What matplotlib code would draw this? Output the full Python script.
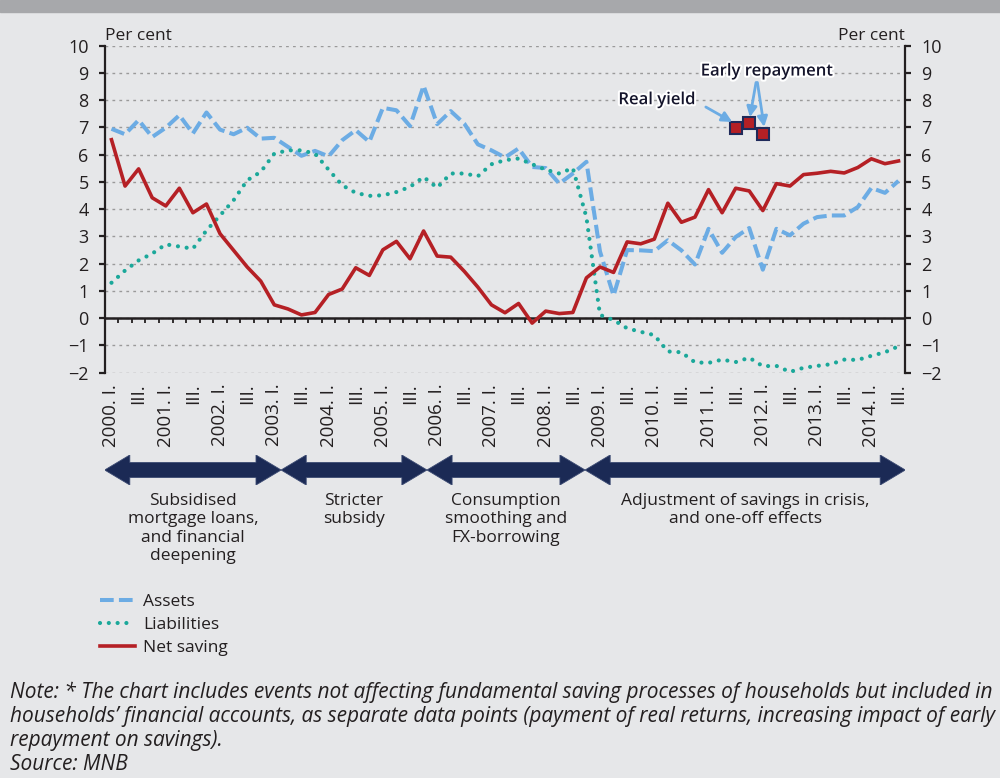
import numpy as np
import matplotlib
matplotlib.use('Agg')
import matplotlib.pyplot as plt
import matplotlib.patheffects as pe
from matplotlib.patches import Polygon, Rectangle
from matplotlib.transforms import blended_transform_factory

plt.rcParams['font.family'] = ['Open Sans', 'DejaVu Sans']

# quarterly data, 2000 Q1 - 2014 Q3, per cent
assets = [6.95, 6.75, 7.27, 6.65, 6.99, 7.45, 6.78, 7.55, 6.92, 6.75, 6.99, 6.59, 6.62, 6.29, 5.96,
          6.14, 5.94, 6.53, 6.90, 6.47, 7.72, 7.63, 7.05, 8.53, 7.12, 7.60, 7.14, 6.38, 6.16, 5.90,
          6.23, 5.55, 5.51, 4.94, 5.31, 5.74, 2.45, 0.83, 2.50, 2.49, 2.46, 2.86, 2.49, 1.97, 3.28,
          2.40, 2.98, 3.31, 1.78, 3.28, 3.04, 3.47, 3.71, 3.77, 3.77, 4.08, 4.78, 4.60, 5.04]
liabilities = [1.30, 1.75, 2.12, 2.37, 2.71, 2.63, 2.55, 3.22, 3.77, 4.33, 5.06, 5.37, 6.04, 6.16, 6.16,
               6.04, 5.45, 4.88, 4.60, 4.49, 4.51, 4.63, 4.82, 5.18, 4.79, 5.31, 5.31, 5.21, 5.65, 5.80,
               5.86, 5.65, 5.45, 5.31, 5.51, 3.70, 0.12, -0.07, -0.37, -0.50, -0.62, -1.22, -1.25, -1.62, -1.64,
               -1.52, -1.61, -1.45, -1.76, -1.75, -1.97, -1.82, -1.75, -1.69, -1.52, -1.53, -1.38, -1.25, -1.03]
net_saving = [6.55, 4.85, 5.48, 4.42, 4.12, 4.77, 3.87, 4.19, 3.10, 2.49, 1.88, 1.36, 0.49, 0.34, 0.12,
              0.21, 0.87, 1.07, 1.85, 1.57, 2.51, 2.82, 2.18, 3.20, 2.28, 2.24, 1.72, 1.14, 0.49, 0.20,
              0.54, -0.18, 0.26, 0.17, 0.21, 1.48, 1.88, 1.68, 2.80, 2.73, 2.90, 4.22, 3.52, 3.71, 4.72,
              3.87, 4.77, 4.67, 3.95, 4.94, 4.85, 5.27, 5.32, 5.39, 5.33, 5.53, 5.85, 5.67, 5.77]
# one-off points (real yield, early repayment)
one_off_idx = [46, 47, 48]
one_off_vals = [6.97, 7.15, 6.77]

periods = ['Subsidised\nmortgage loans,\nand financial\ndeepening',
           'Stricter\nsubsidy',
           'Consumption\nsmoothing and\nFX-borrowing',
           'Adjustment of savings in crisis,\nand one-off effects']
period_bounds = [-0.5, 12.5, 23.25, 34.9, 58.5]

note = ("Note: * The chart includes events not affecting fundamental saving processes of households but included in\n"
        "households\u2019 financial accounts, as separate data points (payment of real returns, increasing impact of early\n"
        "repayment on savings).\n"
        "Source: MNB")

n = len(net_saving)
x = np.arange(n)
tick_pos = x[::2]
tick_labels = [f'{2000 + i // 4}. I.' if i % 4 == 0 else 'III.' for i in tick_pos]

W, H = 1000, 778
def fx(px):
    return px / W
def fy(py):
    return 1 - py / H

BLUE = '#6cace4'
GREEN = '#1ba89a'
RED = '#b52025'
NAVY = '#1b2a55'
INK = '#231f20'

fig = plt.figure(figsize=(10, 7.78), dpi=100)
fig.patch.set_facecolor('#e6e7e9')
fig.add_artist(Rectangle((0, fy(12)), 1, 12 / H, transform=fig.transFigure,
                         color='#a7a8ab', zorder=0))

ax = fig.add_axes([fx(104.7), fy(372.7), fx(905.3) - fx(104.7), (372.7 - 45.7) / H])
ax.set_facecolor('none')
ax.set_xlim(-0.5, n - 0.5)
ax.set_ylim(-2, 10)
ax.set_yticks(range(-2, 11))
ax.set_yticklabels([str(v).replace('-', '\u2212') for v in range(-2, 11)])
ax.yaxis.grid(True, linestyle=(0, (2, 3)), color='#9a9a9a', linewidth=1)
ax.set_axisbelow(True)
for s in ['top', 'bottom']:
    ax.spines[s].set_visible(False)
for s in ['left', 'right']:
    ax.spines[s].set_linewidth(1.6)
    ax.spines[s].set_color(INK)
ax.tick_params(axis='y', which='both', left=True, right=True, labelleft=True, labelright=True,
               direction='out', length=4.5, width=1.6, color=INK, labelsize=13, pad=7,
               labelcolor=INK)
ax.set_xticks(tick_pos)
ax.set_xticklabels(tick_labels, rotation=90, fontsize=13.5, color=INK)
ax.tick_params(axis='x', length=0, pad=8)

# zero line with quarter ticks
ax.axhline(0, color=INK, linewidth=1.8, zorder=2)
ax.vlines(np.arange(0.5, n - 0.5, 1), -0.19, 0, color=INK, linewidth=1.3, zorder=2)

ax.plot(x, assets, color=BLUE, linewidth=2.9, dashes=(3.4, 1.3), label='Assets', zorder=3)
ax.plot(x, liabilities, color=GREEN, linewidth=3.0, dashes=(0.01, 2.1),
        dash_capstyle='round', label='Liabilities', zorder=3)
ax.plot(x, net_saving, color=RED, linewidth=2.6, label='Net saving', zorder=4)
ax.plot(one_off_idx, one_off_vals, linestyle='none', marker='s', markersize=8,
        markerfacecolor=RED, markeredgecolor='#1f2a5a', markeredgewidth=1.5, zorder=5)

ax.text(0, 1.005, 'Per cent', transform=ax.transAxes, ha='left', va='bottom', fontsize=12.5, color=INK)
ax.text(1, 1.005, 'Per cent', transform=ax.transAxes, ha='right', va='bottom', fontsize=12.5, color=INK)

# annotations
outline = [pe.withStroke(linewidth=3, foreground='white')]
arrow_kw = dict(arrowstyle='-|>,head_length=0.6,head_width=0.3', color=BLUE, lw=2, shrinkA=0, shrinkB=0)
ax.text(40.2, 8.0, 'Real yield', ha='center', va='center', fontsize=12, fontweight='semibold',
        color='#14142b', path_effects=outline, zorder=6)
ax.annotate('', xy=(45.75, 7.2), xytext=(43.8, 7.75), arrowprops=arrow_kw, zorder=6)
ax.text(48.3, 9.05, 'Early repayment', ha='center', va='center', fontsize=12, fontweight='semibold',
        color='#14142b', path_effects=outline, zorder=6)
ax.annotate('', xy=(47.05, 7.38), xytext=(47.5, 8.65), arrowprops=arrow_kw, zorder=6)
ax.annotate('', xy=(48.1, 7.02), xytext=(47.6, 8.65), arrowprops=arrow_kw, zorder=6)

# period arrows
axa = fig.add_axes([fx(104.7), fy(485), fx(905.3) - fx(104.7), 30 / H], sharex=ax)
axa.set_ylim(-1, 1)
axa.axis('off')
hl, sh = 1.85, 0.5
for a, b in zip(period_bounds[:-1], period_bounds[1:]):
    pts = [(a, 0), (a + hl, 1), (a + hl, sh), (b - hl, sh), (b - hl, 1), (b, 0),
           (b - hl, -1), (b - hl, -sh), (a + hl, -sh), (a + hl, -1)]
    axa.add_patch(Polygon(pts, closed=True, facecolor=NAVY, edgecolor='#3b4a72', linewidth=0.6))

trans = blended_transform_factory(ax.transData, fig.transFigure)
for label, a, b in zip(periods, period_bounds[:-1], period_bounds[1:]):
    fig.text((a + b) / 2, fy(493), label, transform=trans, ha='center', va='top',
             fontsize=12.5, color=INK, linespacing=1.2)

ax.legend(loc='upper left', bbox_to_anchor=(fx(100), fy(594)), bbox_transform=fig.transFigure,
          frameon=False, fontsize=12.5, handlelength=2.0, handletextpad=0.5, labelspacing=0.38,
          borderpad=0, borderaxespad=0, labelcolor=INK)

fig.text(fx(10), fy(682), note, ha='left', va='top', fontsize=15, style='italic',
         color=INK, linespacing=1.17)

fig.savefig('out.png', dpi=100, facecolor=fig.get_facecolor())
